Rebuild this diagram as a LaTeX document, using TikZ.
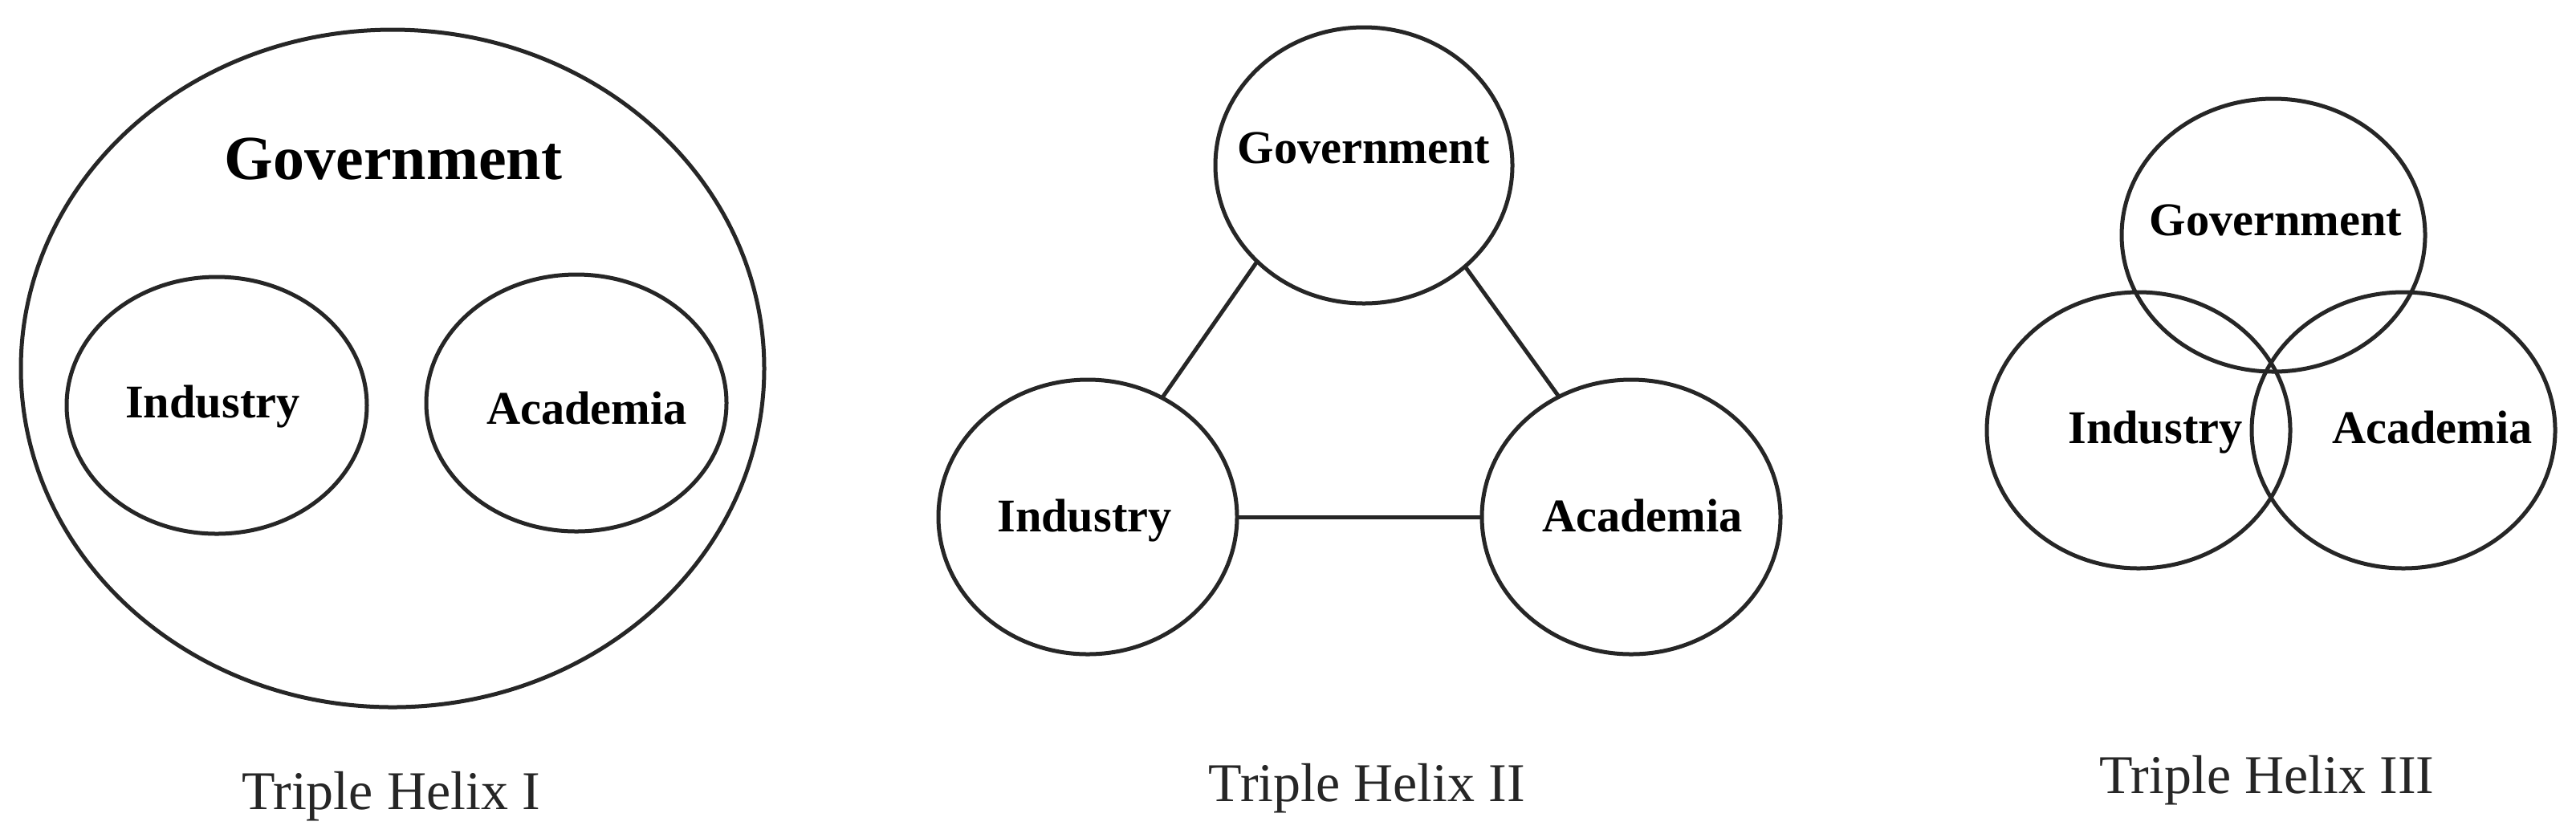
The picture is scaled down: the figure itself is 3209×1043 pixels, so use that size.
\documentclass[tikz,border=0pt]{standalone}
\usepackage{fontspec}
\setmainfont{Liberation Serif}
\usetikzlibrary{shapes.geometric}
\tikzset{
  ring/.style={draw=black!85, line width=1.25pt, ellipse, inner sep=0pt, outer sep=0pt},
  link/.style={draw=black!85, line width=1.25pt},
  lab/.style={anchor=base, inner sep=0pt, font=\fontsize{14.6pt}{17pt}\selectfont\bfseries},
  biglab/.style={anchor=base, inner sep=0pt, font=\fontsize{19.5pt}{22pt}\selectfont\bfseries},
  captext/.style={anchor=base, inner sep=0pt, font=\fontsize{17pt}{20pt}\selectfont, text=black!85}
}
\begin{document}
\begin{tikzpicture}[x=0.25pt,y=-0.25pt]
\useasboundingbox[fill=white] (0,0) rectangle (3209,1043);
% Panel I
\node[ring, minimum width=231.5pt, minimum height=211pt] (outer1) at (489,459) {};
\node[ring, minimum width=93.5pt, minimum height=80pt] (ind1) at (270,505) {};
\node[ring, minimum width=93.5pt, minimum height=80pt] (aca1) at (718,502) {};
\node[biglab] (tgov1) at (490,223) {Government};
\node[lab] (tind1) at (265,520) {Industry};
\node[lab] (taca1) at (731,528) {Academia};
\node[captext] (cap1) at (487,1008) {Triple Helix I};
% Panel II
\node[ring, minimum width=92.5pt, minimum height=86pt] (gov2) at (1699,206) {};
\node[ring, minimum width=93pt, minimum height=85.5pt] (ind2) at (1355,644) {};
\node[ring, minimum width=93pt, minimum height=85.5pt] (aca2) at (2032,644) {};
\draw[link] (gov2.222) -- (ind2.58);
\draw[link] (gov2.-45) -- (aca2.121);
\draw[link] (ind2) -- (aca2);
\node[lab] (tgov2) at (1699,203) {Government};
\node[lab] (tind2) at (1351,662) {Industry};
\node[lab] (taca2) at (2046,662) {Academia};
\node[captext] (cap2) at (1703,998) {Triple Helix II};
% Panel III
\node[ring, minimum width=94.5pt, minimum height=85pt] (gov3) at (2832,293) {};
\node[ring, minimum width=94.5pt, minimum height=86pt] (ind3) at (2664,536) {};
\node[ring, minimum width=94.5pt, minimum height=86pt] (aca3) at (2994,536) {};
\node[lab] (tgov3) at (2835,293) {Government};
\node[lab] (tind3) at (2685,552) {Industry};
\node[lab] (taca3) at (3030,552) {Academia};
\node[captext] (cap3) at (2824,988) {Triple Helix III};
\end{tikzpicture}
\end{document}
